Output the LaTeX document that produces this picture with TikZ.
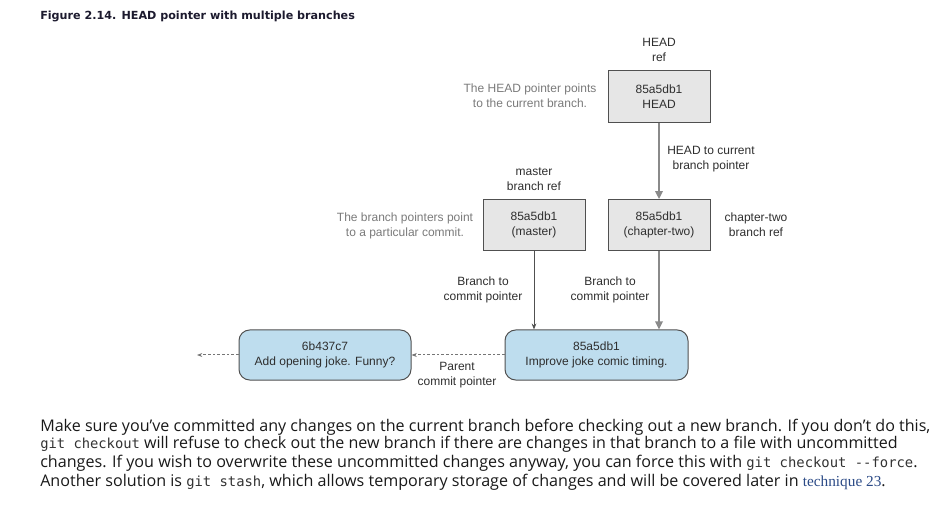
\documentclass[tikz,border=0pt]{standalone}
\usepackage{fontspec}
\setmainfont{Liberation Sans}
\newfontfamily\bodyfont{Open Sans}
\newfontfamily\monofont[Scale=0.86]{DejaVu Sans Mono}
\newfontfamily\titlefont{DejaVu Sans}
\newfontfamily\seriffont[Scale=0.95]{Liberation Serif}
\usetikzlibrary{arrows.meta}
\definecolor{boxgray}{HTML}{E6E6E6}
\definecolor{boxblue}{HTML}{BEDDEE}
\definecolor{edgegray}{HTML}{505050}
\definecolor{txtdark}{HTML}{2E2E2E}
\definecolor{txtgray}{HTML}{7A7A7A}
\definecolor{arrgray}{HTML}{8A8A8A}
\definecolor{titlecol}{HTML}{1C1A2E}
\definecolor{linkblue}{HTML}{2B4A86}
\definecolor{monocol}{HTML}{333333}
\tikzset{
  lbl/.style={font=\fontsize{9}{11.25}\selectfont, text=txtdark, align=center, inner sep=0pt},
  note/.style={font=\fontsize{9}{11.25}\selectfont, text=txtgray, align=center, inner sep=0pt},
  refbox/.style={draw=edgegray, line width=0.75pt, fill=boxgray, minimum width=76.5pt, minimum height=38pt, inner sep=0pt, align=center, font=\fontsize{9}{11.25}\selectfont, text=txtdark},
  commitbox/.style={draw=edgegray, line width=0.75pt, fill=boxblue, rounded corners=8pt, minimum height=37.5pt, inner sep=0pt, align=center, font=\fontsize{9}{11.25}\selectfont, text=txtdark},
  thickarr/.style={draw=arrgray, line width=1.5pt, -{Triangle[length=6pt,width=5.5pt]}},
  thinarr/.style={draw=edgegray, line width=0.6pt, -{Stealth[length=4.5pt,width=3.5pt]}},
  dasharr/.style={draw=arrgray!85!black, line width=0.75pt, dash pattern=on 2pt off 1.5pt, -{Stealth[length=4pt,width=3pt]}},
  bodyline/.style={anchor=base west, inner sep=0pt, text=black!90},
}
\newcommand{\mytt}[1]{{\monofont\color{monocol}#1}}
\begin{document}
\begin{tikzpicture}[x=0.75pt,y=-0.75pt]
\useasboundingbox (0,0) rectangle (948,505);
% title
\node[anchor=base west, inner sep=0pt, text=titlecol] (title) at (40,20)
  {\resizebox{236pt}{!}{\titlefont\bfseries Figure 2.14. HEAD pointer with multiple branches}};
% ref boxes
\node[refbox, minimum height=39pt] (head) at (659,97) {85a5db1\\HEAD};
\node[refbox] (master) at (534,225) {85a5db1\\(master)};
\node[refbox] (chap) at (659,225) {85a5db1\\(chapter-two)};
% commits
\node[commitbox, minimum width=129pt] (lc) at (325,355) {6b437c7\\Add opening joke. Funny?};
\node[commitbox, minimum width=137.25pt] (rc) at (596.5,355) {85a5db1\\Improve joke comic timing.};
% labels
\node[lbl] (headref) at (659,49.5) {HEAD\\ref};
\node[lbl] (masterref) at (534,179.5) {master\\branch ref};
\node[lbl] (chapref) at (756,225) {chapter-two\\branch ref};
\node[lbl] (headptr) at (711,159.5) {HEAD to current\\branch pointer};
\node[lbl] (bptr1) at (483,290) {Branch to\\commit pointer};
\node[lbl] (bptr2) at (610,290) {Branch to\\commit pointer};
\node[lbl] (pptr) at (457,375.5) {Parent\\commit pointer};
\node[note] (note1) at (530,96) {The HEAD pointer points\\to the current branch.};
\node[note] (note2) at (405,226) {The branch pointers point\\to a particular commit.};
% connectors
\coordinate (lend) at (197,355);
\draw[thickarr] (head.south) -- (chap.north);
\draw[thinarr] (master.south) -- (master.south |- rc.north);
\draw[thickarr] (chap.south) -- (chap.south |- rc.north);
\draw[dasharr] (rc.west) -- (lc.east);
\draw[dasharr] (lc.west) -- (lend);
% body text
\node[bodyline] (b1) at (40,431) {\resizebox{667.5pt}{!}{\bodyfont Make sure you’ve committed any changes on the current branch before checking out a new branch. If you don’t do this,}};
\node[bodyline] (b2) at (40,448) {\resizebox{643pt}{!}{\bodyfont\mytt{git checkout} will refuse to check out the new branch if there are changes in that branch to a file with uncommitted}};
\node[bodyline] (b3) at (40,467) {\resizebox{658pt}{!}{\bodyfont changes. If you wish to overwrite these uncommitted changes anyway, you can force this with \mytt{git checkout --force}.}};
\node[bodyline] (b4) at (40,486) {\resizebox{634pt}{!}{\bodyfont Another solution is \mytt{git stash}, which allows temporary storage of changes and will be covered later in {\seriffont\color{linkblue}technique 23}.}};
\end{tikzpicture}
\end{document}
